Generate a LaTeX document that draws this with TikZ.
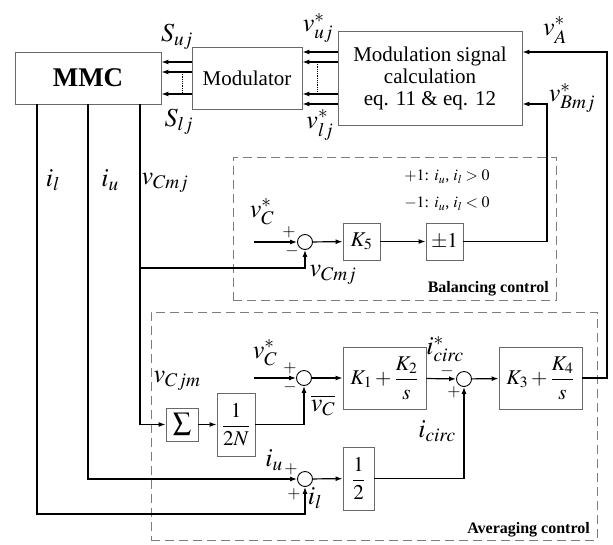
\documentclass[tikz,border=0pt]{standalone}
\usepackage{amsmath}
\usepackage{mathptmx}
\usepackage{fontspec}
\setmainfont{Liberation Serif}
\usepackage{tikz}
\usetikzlibrary{arrows.meta,positioning,calc}
\definecolor{BoxGray}  {RGB}{105,105,105}
\definecolor{DashGray} {RGB}{125,125,125}
\tikzset{
  block/.style={
    rectangle, draw=BoxGray, fill=white, line width=0.9pt,
    inner sep=2pt, align=center,
    font=\fontsize{21}{22}\selectfont
  },
  sumnode/.style={circle, draw=black, line width=0.9pt,
                  minimum size=15pt, inner sep=0pt},
  flow/.style={-{Latex[length=7pt,width=5pt]},
               line width=1.2pt, color=black},
  wire/.style={line width=1.2pt, color=black},
  group/.style={rectangle, draw=DashGray, line width=1pt,
                dash pattern=on 9pt off 5pt},
  lbl/.style={font=\fontsize{26}{28}\selectfont, inner sep=0pt},
  sgn/.style={font=\fontsize{17}{18}\selectfont, inner sep=0pt,
              text height=7pt, text depth=0pt},
  note/.style={font=\fontsize{16}{18}\selectfont, inner sep=0pt},
  grouptitle/.style={font=\fontsize{16}{18}\selectfont\bfseries,
                     inner sep=0pt, anchor=east}
}

\begin{document}
\begin{tikzpicture}[x=1pt, y=-1pt]
  \useasboundingbox (0,0) rectangle (613,544);

  % dashed control groups
  \node[group, minimum width=323pt, minimum height=143pt] (bal) at (394.5,228.5) {};
  \node[group, minimum width=446pt, minimum height=228pt] (avg) at (374,426) {};
  \node[grouptitle] (baltitle) at (549,289) {Balancing control};
  \node[grouptitle] (avgtitle) at (590,530) {Averaging control};

  % top row
  \node[block, minimum width=146pt, minimum height=52pt,
        font=\fontsize{27}{28}\selectfont\bfseries] (mmc) at (88,78) {MMC};
  \node[block, minimum width=110pt, minimum height=62pt] (mod) at (247,78) {Modulator};
  \node[block, minimum width=184pt, minimum height=94pt] (calc) at (430,78)
        {Modulation signal\\calculation\\eq. 11 \& eq. 12};

  % balancing loop
  \node[sumnode] (sum1) at (305,242) {};
  \node[block, minimum width=37pt, minimum height=37pt] (k5) at (361.5,241.5) {$K_5$};
  \node[block, minimum width=37pt, minimum height=37pt] (pm) at (444.5,241.5) {$\pm1$};

  % averaging loop
  \node[sumnode] (sum2) at (304,378) {};
  \node[block, minimum width=32pt, minimum height=33pt,
        font=\fontsize{18}{18}\selectfont] (sig) at (182,424.5) {$\displaystyle\sum$};
  \node[block, minimum width=38pt, minimum height=63pt] (halfn) at (236,424.5) {$\dfrac{1}{2N}$};
  \node[block, minimum width=83pt, minimum height=62pt] (k12) at (384.5,378) {$K_1+\dfrac{K_2}{s}$};
  \node[sumnode] (sum3) at (464,379) {};
  \node[block, minimum width=83pt, minimum height=62pt] (k34) at (540.5,378) {$K_3+\dfrac{K_4}{s}$};
  \node[sumnode] (sum4) at (305,479) {};
  \node[block, minimum width=31pt, minimum height=63pt] (half) at (358.5,478.5) {$\dfrac{1}{2}$};

  \coordinate (vcref1) at (254,242);
  \coordinate (vcref2) at (254,378);
  \coordinate (vtap)   at (140,268);
  \coordinate (ilbend) at (305,514);
  \coordinate (ra)     at (607,52);
  \coordinate (rb)     at (547,104);

  % gate signals and references
  \foreach \dy in {16,6,-16}
    \draw[flow] ([yshift=\dy pt]mod.west) -- ([yshift=\dy pt]mmc.east);
  \foreach \dy in {26,16,-16,-26}
    \draw[flow] ([yshift=\dy pt]calc.west) -- ([yshift=\dy pt]mod.east);
  \draw[densely dotted, line width=0.8pt] ([xshift=21pt,yshift=6pt]mmc.east) -- ([xshift=21pt,yshift=-16pt]mmc.east);
  \draw[densely dotted, line width=0.8pt] ([xshift=15pt,yshift=16pt]mod.east) -- ([xshift=15pt,yshift=-16pt]mod.east);

  % measurements from the MMC
  \draw[flow] ([xshift=-51pt]mmc.south) |- (ilbend) -- (sum4.south);
  \draw[flow] (mmc.south) |- (sum4.west);
  \draw[flow] ([xshift=52pt]mmc.south) |- (sig.west);
  \draw[flow] (vtap) -| (sum1.south);

  % balancing path
  \draw[flow] (vcref1) -- (sum1.west);
  \draw[flow] (sum1) -- (k5);
  \draw[flow] (k5) -- (pm);
  \draw[flow] (pm.east) -| (rb) -- ([yshift=-26pt]calc.east);

  % averaging path
  \draw[flow] (sig) -- (halfn);
  \draw[flow] (halfn.east) -| (sum2.south);
  \draw[flow] (vcref2) -- (sum2.west);
  \draw[flow] (sum2) -- (k12);
  \draw[flow] (k12) -- (sum3);
  \draw[flow] (sum3) -- (k34);
  \draw[flow] (sum4) -- (half);
  \draw[flow] (half.east) -| (sum3.south);
  \draw[flow] (k34.east) -| (ra) -- ([yshift=26pt]calc.east);

  % signal labels
  \node[lbl] (lsuj)  at (177,37)  {$S_{uj}$};
  \node[lbl] (lslj)  at (179,122) {$S_{lj}$};
  \node[lbl] (lvuj)  at (318,28)  {$v_{uj}^{*}$};
  \node[lbl] (lvlj)  at (320,125) {$v_{lj}^{*}$};
  \node[lbl] (lva)   at (555,30)  {$v_{A}^{*}$};
  \node[lbl] (lvb)   at (572,98)  {$v_{Bmj}^{*}$};
  \node[lbl] (lil)   at (53,180)  {$i_l$};
  \node[lbl] (liu)   at (110,180) {$i_u$};
  \node[lbl] (lvc)   at (165,183) {$v_{Cmj}$};

  \node[lbl] (lvcr1) at (262,212) {$v_{C}^{*}$};
  \node[sgn] (p1)    at (289,233) {$+$};
  \node[sgn] (m1)    at (292,252) {$-$};
  \node[lbl] (lvcm)  at (333,275) {$v_{Cmj}$};
  \node[note] (pos)  at (447,177) {$+1$: $i_u$, $i_l > 0$};
  \node[note] (neg)  at (447,204) {$-1$: $i_u$, $i_l < 0$};

  \node[lbl] (lvcjm) at (177,381) {$v_{Cjm}$};
  \node[lbl] (lvcr2) at (265,353) {$v_{C}^{*}$};
  \node[sgn] (p2)    at (290,369) {$+$};
  \node[sgn] (m2)    at (290,388) {$-$};
  \node[lbl] (lvbar) at (323,405) {$\overline{v_C}$};
  \node[lbl] (licr)  at (445,349) {$i_{circ}^{*}$};
  \node[sgn] (m3)    at (447,372) {$-$};
  \node[sgn] (p3)    at (454,393) {$+$};
  \node[lbl] (lic)   at (437,431) {$i_{circ}$};
  \node[lbl] (liu2)  at (274,460) {$i_u$};
  \node[sgn] (p4)    at (291,470) {$+$};
  \node[sgn] (p5)    at (294,495) {$+$};
  \node[lbl] (lil2)  at (315,498) {$i_l$};
\end{tikzpicture}
\end{document}
